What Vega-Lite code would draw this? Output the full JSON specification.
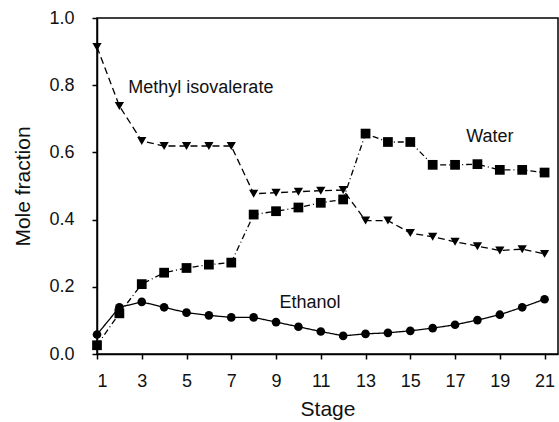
{
  "$schema": "https://vega.github.io/schema/vega-lite/v6.json",
  "width": 461,
  "height": 336,
  "autosize": {"type": "none"},
  "padding": {"left": 97, "top": 18, "right": 1, "bottom": 68},
  "background": "white",
  "config": {
    "font": "Liberation Sans",
    "view": {"stroke": "black", "strokeWidth": 1.5},
    "axis": {"domainColor": "black", "tickColor": "black", "labelColor": "#111", "titleColor": "#111", "grid": false, "domainWidth": 1.5, "tickWidth": 1.5, "labelFont": "Liberation Sans", "titleFont": "Liberation Sans", "titleFontWeight": "normal"}
  },
  "datasets": {
    "series": [
      {"stage": 1, "series": "Methyl isovalerate", "x": 0.914},
      {"stage": 2, "series": "Methyl isovalerate", "x": 0.738},
      {"stage": 3, "series": "Methyl isovalerate", "x": 0.634},
      {"stage": 4, "series": "Methyl isovalerate", "x": 0.619},
      {"stage": 5, "series": "Methyl isovalerate", "x": 0.619},
      {"stage": 6, "series": "Methyl isovalerate", "x": 0.619},
      {"stage": 7, "series": "Methyl isovalerate", "x": 0.619},
      {"stage": 8, "series": "Methyl isovalerate", "x": 0.477},
      {"stage": 9, "series": "Methyl isovalerate", "x": 0.480},
      {"stage": 10, "series": "Methyl isovalerate", "x": 0.483},
      {"stage": 11, "series": "Methyl isovalerate", "x": 0.486},
      {"stage": 12, "series": "Methyl isovalerate", "x": 0.488},
      {"stage": 13, "series": "Methyl isovalerate", "x": 0.397},
      {"stage": 14, "series": "Methyl isovalerate", "x": 0.397},
      {"stage": 15, "series": "Methyl isovalerate", "x": 0.360},
      {"stage": 16, "series": "Methyl isovalerate", "x": 0.349},
      {"stage": 17, "series": "Methyl isovalerate", "x": 0.334},
      {"stage": 18, "series": "Methyl isovalerate", "x": 0.321},
      {"stage": 19, "series": "Methyl isovalerate", "x": 0.308},
      {"stage": 20, "series": "Methyl isovalerate", "x": 0.312},
      {"stage": 21, "series": "Methyl isovalerate", "x": 0.298},
      {"stage": 1, "series": "Water", "x": 0.026},
      {"stage": 2, "series": "Water", "x": 0.121},
      {"stage": 3, "series": "Water", "x": 0.208},
      {"stage": 4, "series": "Water", "x": 0.242},
      {"stage": 5, "series": "Water", "x": 0.256},
      {"stage": 6, "series": "Water", "x": 0.266},
      {"stage": 7, "series": "Water", "x": 0.272},
      {"stage": 8, "series": "Water", "x": 0.415},
      {"stage": 9, "series": "Water", "x": 0.425},
      {"stage": 10, "series": "Water", "x": 0.436},
      {"stage": 11, "series": "Water", "x": 0.450},
      {"stage": 12, "series": "Water", "x": 0.460},
      {"stage": 13, "series": "Water", "x": 0.656},
      {"stage": 14, "series": "Water", "x": 0.631},
      {"stage": 15, "series": "Water", "x": 0.631},
      {"stage": 16, "series": "Water", "x": 0.563},
      {"stage": 17, "series": "Water", "x": 0.563},
      {"stage": 18, "series": "Water", "x": 0.565},
      {"stage": 19, "series": "Water", "x": 0.548},
      {"stage": 20, "series": "Water", "x": 0.548},
      {"stage": 21, "series": "Water", "x": 0.540},
      {"stage": 1, "series": "Ethanol", "x": 0.058},
      {"stage": 2, "series": "Ethanol", "x": 0.139},
      {"stage": 3, "series": "Ethanol", "x": 0.155},
      {"stage": 4, "series": "Ethanol", "x": 0.139},
      {"stage": 5, "series": "Ethanol", "x": 0.123},
      {"stage": 6, "series": "Ethanol", "x": 0.115},
      {"stage": 7, "series": "Ethanol", "x": 0.109},
      {"stage": 8, "series": "Ethanol", "x": 0.109},
      {"stage": 9, "series": "Ethanol", "x": 0.095},
      {"stage": 10, "series": "Ethanol", "x": 0.081},
      {"stage": 11, "series": "Ethanol", "x": 0.067},
      {"stage": 12, "series": "Ethanol", "x": 0.054},
      {"stage": 13, "series": "Ethanol", "x": 0.060},
      {"stage": 14, "series": "Ethanol", "x": 0.063},
      {"stage": 15, "series": "Ethanol", "x": 0.069},
      {"stage": 16, "series": "Ethanol", "x": 0.077},
      {"stage": 17, "series": "Ethanol", "x": 0.087},
      {"stage": 18, "series": "Ethanol", "x": 0.101},
      {"stage": 19, "series": "Ethanol", "x": 0.117},
      {"stage": 20, "series": "Ethanol", "x": 0.139},
      {"stage": 21, "series": "Ethanol", "x": 0.163}
    ],
    "labels": [
      {"stage": 2.4, "x": 0.792, "label": "Methyl isovalerate"},
      {"stage": 17.5, "x": 0.646, "label": "Water"},
      {"stage": 9.15, "x": 0.152, "label": "Ethanol"}
    ]
  },
  "layer": [
    {
      "data": {"name": "series"},
      "mark": {"type": "line", "color": "black", "strokeWidth": 1.3},
      "encoding": {
        "x": {"field": "stage", "type": "quantitative", "scale": {"domain": [1, 21.6], "nice": false, "zero": false},
          "axis": {"title": "Stage", "values": [1, 3, 5, 7, 9, 11, 13, 15, 17, 19, 21], "labelFontSize": 18, "titleFontSize": 21, "tickSize": 5, "labelPadding": 13, "titlePadding": 8}},
        "y": {"field": "x", "type": "quantitative", "scale": {"domain": [0, 1], "nice": false},
          "axis": {"title": "Mole fraction", "values": [0, 0.2, 0.4, 0.6, 0.8, 1.0], "format": ".1f", "labelFontSize": 18, "titleFontSize": 21, "tickSize": 5, "labelPadding": 18, "titlePadding": 15}},
        "strokeDash": {"field": "series", "type": "nominal",
          "scale": {"domain": ["Ethanol", "Methyl isovalerate", "Water"], "range": [[1, 0], [7, 4], [6, 3, 1, 3]]}, "legend": null},
        "detail": {"field": "series"}
      }
    },
    {
      "data": {"name": "series"},
      "mark": {"type": "point", "filled": true, "color": "black", "opacity": 1},
      "encoding": {
        "x": {"field": "stage", "type": "quantitative"},
        "y": {"field": "x", "type": "quantitative"},
        "shape": {"field": "series", "type": "nominal",
          "scale": {"domain": ["Ethanol", "Methyl isovalerate", "Water"], "range": ["circle", "triangle-down", "square"]}, "legend": null},
        "size": {"field": "series", "type": "nominal",
          "scale": {"domain": ["Ethanol", "Methyl isovalerate", "Water"], "range": [75, 95, 75]}, "legend": null}
      }
    },
    {
      "data": {"name": "labels"},
      "mark": {"type": "text", "align": "left", "baseline": "middle", "fontSize": 18, "color": "#111", "font": "Liberation Sans"},
      "encoding": {
        "x": {"field": "stage", "type": "quantitative"},
        "y": {"field": "x", "type": "quantitative"},
        "text": {"field": "label"}
      }
    }
  ]
}
